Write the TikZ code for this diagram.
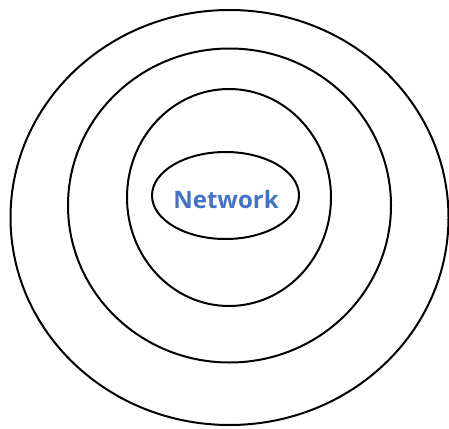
\documentclass[tikz,border=0pt]{standalone}
\usepackage{fontspec}
\setmainfont{Open Sans}
\definecolor{netblue}{HTML}{4472C4}
\begin{document}
\begin{tikzpicture}[x=1pt,y=-1pt,
  ring/.style={draw=black,line width=2pt}]
\useasboundingbox (0,0) rectangle (449,428);
\draw[ring] (229.5,217.5) ellipse [x radius=219,y radius=207.5];
\draw[ring] (229.5,205.5) ellipse [x radius=161.5,y radius=157];
\draw[ring] (229,197.5) ellipse [x radius=102,y radius=108.5];
\draw[ring] (225.5,195.5) ellipse [x radius=73.5,y radius=43.5];
\node[font=\fontsize{24}{28}\selectfont\bfseries,text=netblue] (net) at (226,199) {Network};
\end{tikzpicture}
\end{document}
